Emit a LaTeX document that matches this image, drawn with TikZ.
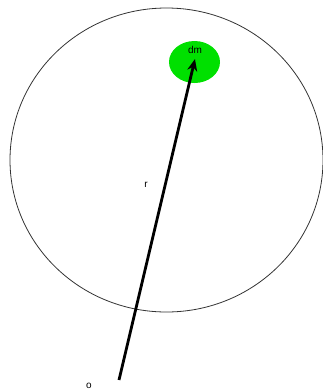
\documentclass[tikz,border=0pt]{standalone}
\usepackage{fontspec}
\setmainfont{Liberation Sans}
\usetikzlibrary{arrows.meta,shapes.geometric}
\definecolor{blobgreen}{RGB}{0,224,0}
\tikzset{
  lbl/.style={inner sep=0pt, font=\fontsize{10}{11}\selectfont},
  vec/.style={line width=2.8pt, -{Stealth[length=12pt,width=10pt]}},
}
\begin{document}
\begin{tikzpicture}[x=1pt,y=-1pt]
\useasboundingbox (0,0) rectangle (323,392);
\node[ellipse, draw=black!80, line width=0.8pt, minimum width=313pt, minimum height=304pt, inner sep=0pt] (body) at (166.5,160) {};
\node[ellipse, fill=blobgreen, minimum width=51pt, minimum height=42pt, inner sep=0pt] (blob) at (194.5,62) {};
\node[lbl] (dm) at (195,50) {dm};
\node[lbl] (r) at (146,185) {r};
\node[lbl] (o) at (89,386) {o};
\coordinate (start) at (119,380);
\coordinate (tip) at (195,59);
\draw[vec] (start) -- (tip);
\end{tikzpicture}
\end{document}
